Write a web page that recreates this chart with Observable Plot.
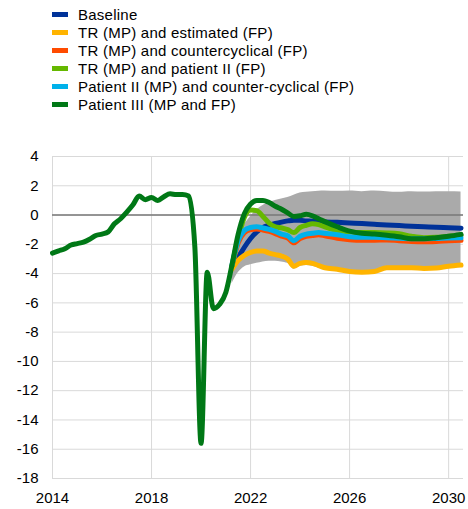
<!DOCTYPE html>
<html><head><meta charset="utf-8">
<script src="https://cdn.jsdelivr.net/npm/d3@7"></script>
<script src="https://cdn.jsdelivr.net/npm/@observablehq/plot@0.6"></script>
<style>
body{margin:0;background:#fff;font-family:Arial,"Liberation Sans",sans-serif;}
#wrap{position:relative;width:468px;height:509px;overflow:hidden;}
#legend{position:absolute;left:0;top:0;width:468px;height:140px;}
.item{position:absolute;left:0;height:18px;line-height:18px;font-size:15px;letter-spacing:0.25px;color:#000;white-space:nowrap;}
.sw{position:absolute;left:52px;top:6px;width:16px;height:5px;}
.lab{position:absolute;left:78px;top:0;}
#chart{position:absolute;left:0;top:140px;}
</style></head><body>
<div id="wrap"><div id="legend"></div><div id="chart"></div></div>
<script>
const seriesNames = [
  "Baseline",
  "TR (MP) and estimated (FP)",
  "TR (MP) and countercyclical (FP)",
  "TR (MP) and patient II (FP)",
  "Patient II (MP) and counter-cyclical (FP)",
  "Patient III (MP and FP)"
];
const seriesColors = ["#003299", "#FFB400", "#FF4B00", "#65B800", "#00B1EA", "#007816"];

const xTicks = [2014, 2018, 2022, 2026, 2030];
const yTicks = [4, 2, 0, -2, -4, -6, -8, -10, -12, -14, -16, -18];

// History (shared, drawn as part of Patient III)
const histYears = [2014, 2014.25, 2014.5, 2014.75, 2015, 2015.25, 2015.5, 2015.75, 2016, 2016.25, 2016.5, 2016.75,
  2017, 2017.25, 2017.5, 2017.75, 2018, 2018.25, 2018.5, 2018.75, 2019, 2019.25, 2019.5, 2019.75,
  2020, 2020.25, 2020.5, 2020.75, 2021];
const histValues = [-2.6, -2.45, -2.3, -2.05, -1.95, -1.85, -1.65, -1.4, -1.3, -1.15, -0.6, -0.25,
  0.2, 0.7, 1.3, 1.05, 1.2, 1.0, 1.25, 1.45, 1.4, 1.4, 1.3, -2.2,
  -15.6, -3.9, -6.4, -6.1, -5.3];

// Projection horizon
const projYears = [2021.25, 2021.5, 2021.75, 2022, 2022.25, 2022.5, 2022.75, 2023, 2023.25, 2023.5, 2023.75,
  2024, 2024.25, 2024.5, 2024.75, 2025, 2025.5, 2026, 2026.5, 2027, 2027.5, 2028, 2028.5, 2029, 2029.5, 2030, 2030.5];

const baseline = [-3.5, -2.9, -2.2, -1.6, -1.15, -0.85, -0.7, -0.58, -0.48, -0.4, -0.35,
  -0.36, -0.4, -0.42, -0.45, -0.47, -0.5, -0.54, -0.58, -0.63, -0.68, -0.72, -0.76, -0.8, -0.84, -0.87, -0.9];
const trEstimated = [-3.7, -3.1, -2.75, -2.55, -2.45, -2.45, -2.6, -2.7, -2.8, -3.0, -3.5,
  -3.3, -3.25, -3.3, -3.45, -3.6, -3.7, -3.85, -3.9, -3.85, -3.6, -3.6, -3.6, -3.65, -3.62, -3.5, -3.42];
const trCountercyclical = [-3.5, -1.9, -1.2, -1.0, -0.95, -1.02, -1.12, -1.27, -1.45, -1.57, -1.9,
  -1.6, -1.45, -1.4, -1.35, -1.42, -1.58, -1.68, -1.72, -1.72, -1.7, -1.75, -1.8, -1.82, -1.8, -1.76, -1.73];
const trPatientII = [-3.5, -1.6, -0.15, 0.35, 0.3, -0.1, -0.55, -0.8, -0.88, -1.0, -1.2,
  -0.85, -0.7, -0.6, -0.65, -0.8, -1.05, -1.15, -1.2, -1.2, -1.22, -1.28, -1.45, -1.55, -1.52, -1.45, -1.38];
const patientIICounter = [-3.4, -1.75, -1.05, -0.85, -0.8, -0.88, -0.98, -1.12, -1.3, -1.42, -1.75,
  -1.45, -1.3, -1.25, -1.2, -1.25, -1.35, -1.48, -1.52, -1.52, -1.55, -1.58, -1.62, -1.62, -1.6, -1.57, -1.55];
const patientIII = [-3.4, -1.3, 0.1, 0.75, 1.0, 1.0, 0.85, 0.6, 0.4, 0.15, -0.1,
  -0.05, 0.05, -0.05, -0.25, -0.45, -0.8, -1.1, -1.25, -1.3, -1.38, -1.48, -1.62, -1.62, -1.55, -1.45, -1.32];

// Range band (min / max across scenarios)
const bandLow = [-4.7, -3.95, -3.55, -3.4, -3.3, -3.2, -3.15, -3.15, -3.2, -3.3, -3.7,
  -3.5, -3.45, -3.5, -3.62, -3.75, -3.85, -4.0, -4.05, -4.0, -3.78, -3.75, -3.75, -3.8, -3.78, -3.66, -3.58];
const bandHigh = [-3.3, -1.7, -0.7, -0.1, 0.35, 0.65, 0.85, 1.0, 1.1, 1.2, 1.35,
  1.5, 1.55, 1.6, 1.63, 1.65, 1.62, 1.65, 1.6, 1.65, 1.6, 1.55, 1.6, 1.57, 1.6, 1.6, 1.58];

const projSeries = [baseline, trEstimated, trCountercyclical, trPatientII, patientIICounter, patientIII];

// Build rows
const seriesRows = projSeries.map((vals, i) => {
  let rows = projYears.map((y, j) => ({year: y, value: vals[j]}));
  if (i === 5) rows = histYears.map((y, j) => ({year: y, value: histValues[j]})).concat(rows);
  return rows;
});
const bandRows = projYears.map((y, j) => ({year: y, lo: bandLow[j], hi: bandHigh[j]}));

// Legend
const legend = document.getElementById("legend");
seriesNames.forEach((name, i) => {
  const it = document.createElement("div");
  it.className = "item";
  it.style.top = (5.5 + 18 * i) + "px";
  const sw = document.createElement("div");
  sw.className = "sw";
  sw.style.background = seriesColors[i];
  const lab = document.createElement("div");
  lab.className = "lab";
  lab.textContent = name;
  it.appendChild(sw); it.appendChild(lab);
  legend.appendChild(it);
});

const fmt = d => (d < 0 ? "-" + Math.abs(d) : String(d));
const font = 'Arial, "Liberation Sans", sans-serif';

const chart = Plot.plot({
  width: 468, height: 369,
  marginTop: 16, marginBottom: 31, marginLeft: 52, marginRight: 5,
  x: {domain: [2014, 2030.6]},
  y: {domain: [-18, 4]},
  style: {fontFamily: font, fontSize: "15px", color: "#000", background: "#fff"},
  marks: [
    Plot.gridY(yTicks, {stroke: "#d9d9d9", strokeOpacity: 1, strokeWidth: 1}),
    Plot.gridX(xTicks, {stroke: "#d9d9d9", strokeOpacity: 1, strokeWidth: 1}),
    Plot.areaY(bandRows, {x: "year", y1: "lo", y2: "hi", fill: "#aaaaaa", curve: "monotone-x"}),
    Plot.ruleY([0], {stroke: "#777777", strokeWidth: 1.5}),
    ...seriesRows.map((rows, i) => Plot.line(rows, {
      x: "year", y: "value", stroke: seriesColors[i], strokeWidth: 5,
      curve: "monotone-x", strokeLinejoin: "round", strokeLinecap: "round"
    })),
    Plot.axisY(yTicks, {tickSize: 0, tickPadding: 14, tickFormat: fmt, fontSize: 15, label: null}),
    Plot.axisX(xTicks, {tickSize: 0, tickPadding: 14, tickFormat: d => String(d), fontSize: 15, label: null})
  ]
});
document.getElementById("chart").appendChild(chart);
</script>
</body></html>
